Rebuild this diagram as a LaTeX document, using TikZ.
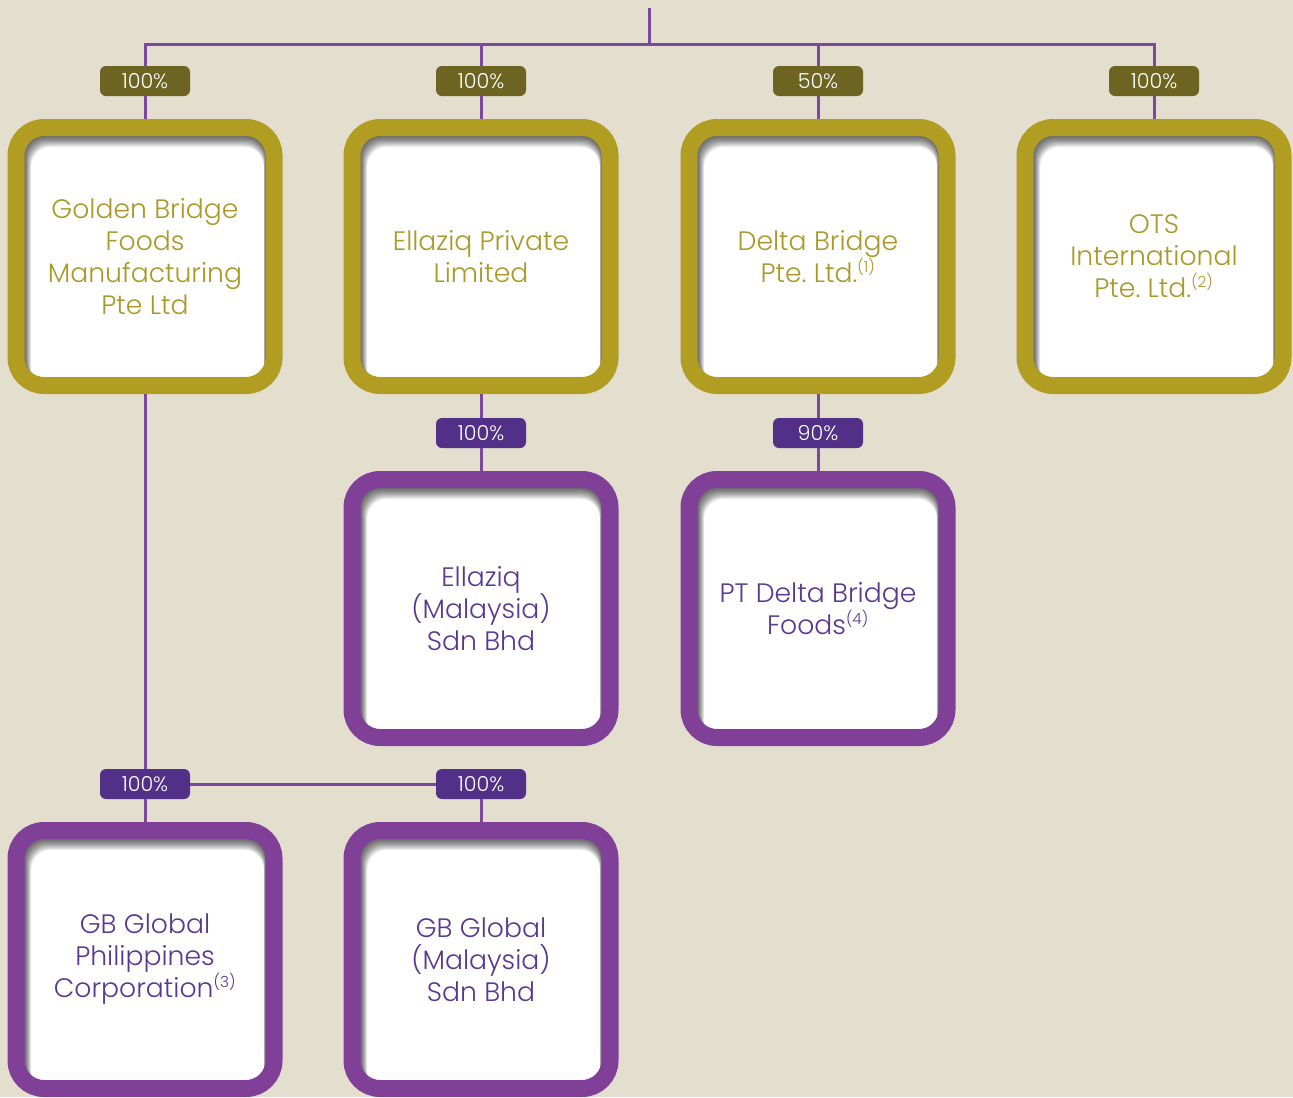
\documentclass[tikz,border=0pt]{standalone}
\usepackage{fontspec}
\setmainfont{Poppins}[UprightFont={* Light}]
\usepackage{tikz}
\usetikzlibrary{positioning, calc}
\definecolor{paper}{RGB}{228,222,207}
\definecolor{goldbox}{RGB}{176,157,34}
\definecolor{goldtext}{RGB}{170,152,40}
\definecolor{olivetag}{RGB}{108,100,32}
\definecolor{purplebox}{RGB}{128,64,152}
\definecolor{purpletag}{RGB}{82,48,135}
\definecolor{purpletext}{RGB}{90,56,146}
\definecolor{wire}{RGB}{122,72,160}

\tikzset{
  inshadow/.style={path picture={
    \foreach \k in {1,...,9}{
      \pgfmathsetmacro{\dx}{0.55*\k}
      \pgfmathsetmacro{\dy}{0.9*\k}
      \fill[black, opacity=0.085, even odd rule]
        ([shift={(-20pt,-20pt)}]path picture bounding box.south west) rectangle
        ([shift={(20pt,20pt)}]path picture bounding box.north east)
        [rounded corners=14.6pt]
        ([shift={(6.4pt+\dx pt,-6.4pt-\dy pt)}]path picture bounding box.north west) rectangle
        ([shift={(-6.4pt-0.25*\dx pt,6.4pt-\dy pt)}]path picture bounding box.south east);
    }}},
  company/.style={draw, fill=white, rounded corners=21pt, line width=12.75pt,
    minimum width=193.5pt, minimum height=193.5pt, align=center,
    font=\fontsize{20}{24}\selectfont, inshadow},
  goldco/.style={company, draw=goldbox, text=goldtext},
  purpleco/.style={company, draw=purplebox, text=purpletext},
  share/.style={rounded corners=4.5pt, minimum width=67.5pt, minimum height=22.5pt,
    inner sep=0pt, text=white, font=\fontsize{15.5}{16}\selectfont},
  goldshare/.style={share, fill=olivetag},
  purpleshare/.style={share, fill=purpletag},
  link/.style={draw=wire, line width=2.25pt}
}
\newcommand{\fn}[1]{\textsuperscript{\fontsize{11.5}{11.5}\selectfont(#1)}}

\begin{document}
\begin{tikzpicture}[x=0.75pt, y=-0.75pt]
  \fill[paper] (0,0) rectangle (1293,1097);
  \useasboundingbox (0,0) rectangle (1293,1097);

  % top level
  \coordinate (top) at (649,8);
  \coordinate (hub) at (649,44);

  \node(gbf) [goldco] at (145,256.5) {Golden Bridge\\Foods\\Manufacturing\\Pte Ltd};
  \node(epl) [goldco] at (481,256.5) {Ellaziq Private\\Limited};
  \node(dbp) [goldco] at (818,256.5) {Delta Bridge\\Pte.\ Ltd.\fn{1}};
  \node(ots) [goldco] at (1154,256.5) {OTS\\International\\Pte.\ Ltd.\fn{2}};

  \node(emy) [purpleco] at (481,608.5) {Ellaziq\\(Malaysia)\\Sdn Bhd};
  \node(ptd) [purpleco] at (818,608.5) {PT Delta Bridge\\Foods\fn{4}};

  \node(gbp) [purpleco] at (145,959.5) {GB Global\\Philippines\\Corporation\fn{3}};
  \node(gbm) [purpleco] at (481,959.5) {GB Global\\(Malaysia)\\Sdn Bhd};

  % share labels
  \node(s1) [goldshare] at (145,81) {100\%};
  \node(s2) [goldshare] at (481,81) {100\%};
  \node(s3) [goldshare] at (818,81) {50\%};
  \node(s4) [goldshare] at (1154,81) {100\%};
  \node(s5) [purpleshare] at (481,433) {100\%};
  \node(s6) [purpleshare] at (818,433) {90\%};
  \node(s7) [purpleshare] at (145,784) {100\%};
  \node(s8) [purpleshare] at (481,784) {100\%};

  % connectors
  \draw[link] (hub) -- (top);
  \draw[link] (s1) |- (hub) -| (s4);
  \draw[link] (s2) -- (s2 |- hub);
  \draw[link] (s3) -- (s3 |- hub);
  \draw[link] (s1) -- (gbf);
  \draw[link] (s2) -- (epl);
  \draw[link] (s3) -- (dbp);
  \draw[link] (s4) -- (ots);
  \draw[link] (epl) -- (s5);
  \draw[link] (s5) -- (emy);
  \draw[link] (dbp) -- (s6);
  \draw[link] (s6) -- (ptd);
  \draw[link] (gbf) -- (s7);
  \draw[link] (s7) -- (gbp);
  \draw[link] (s7) -- (s8);
  \draw[link] (s8) -- (gbm);
\end{tikzpicture}
\end{document}
